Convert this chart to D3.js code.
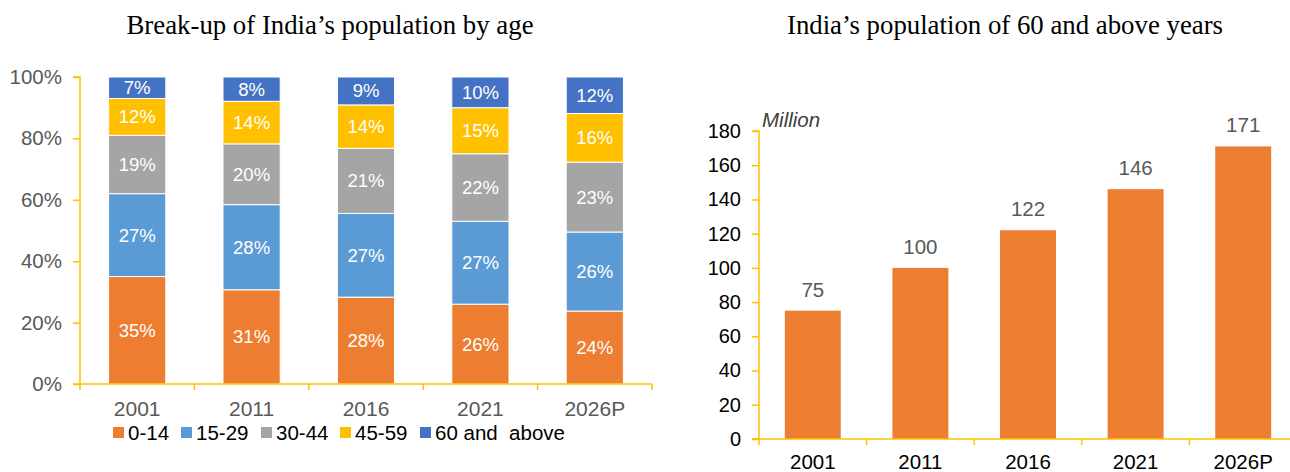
<!DOCTYPE html>
<html>
<head>
<meta charset="utf-8">
<script src="https://cdn.jsdelivr.net/npm/d3@7"></script>
<style>
  body { margin: 0; background: #fff; }
  svg { display: block; font-family: "Liberation Sans", Arial, sans-serif; }
  .title { font-family: "Liberation Serif", "Times New Roman", serif; font-size: 26.8px; fill: #000; }
</style>
</head>
<body>
<svg id="chart" width="1290" height="472"></svg>
<script>
// Left chart: age break-up (% share)
const years = ["2001", "2011", "2016", "2021", "2026P"];
const ageGroups = ["0-14", "15-29", "30-44", "45-59", "60 and  above"];
const share0to14 = [35, 31, 28, 26, 24];
const share15to29 = [27, 28, 27, 27, 26];
const share30to44 = [19, 20, 21, 22, 23];
const share45to59 = [12, 14, 14, 15, 16];
const share60plus = [7, 8, 9, 10, 12];
const pctTicks = [0, 0.2, 0.4, 0.6, 0.8, 1];

// Right chart: 60+ population (million)
const elderly = [75, 100, 122, 146, 171];
const millionTicks = [0, 20, 40, 60, 80, 100, 120, 140, 160, 180];

const COLORS = ["#ED7D31", "#5B9BD5", "#A5A5A5", "#FFC000", "#4472C4"];
const AXIS = "#FFC000";

const svg = d3.select("#chart");

// ---------- left chart ----------
const shares = [share0to14, share15to29, share30to44, share45to59, share60plus];
const rows = years.map((y, i) => {
  const r = { year: y };
  ageGroups.forEach((g, k) => (r[g] = shares[k][i]));
  return r;
});

const L = { left: 80, right: 652, top: 77, bottom: 384 };
const xL = d3.scaleBand().domain(years).range([L.left, L.right]).paddingInner(0.5).paddingOuter(0.25);
const yL = d3.scaleLinear().domain([0, 1]).range([L.bottom, L.top]);

// shares don't always add to exactly 100, so normalise like the original
const stack = d3.stack().keys(ageGroups).offset(d3.stackOffsetExpand);
const series = stack(rows);

const gL = svg.append("g");

gL.selectAll("g.layer")
  .data(series)
  .join("g")
  .attr("class", "layer")
  .attr("fill", (d, i) => COLORS[i])
  .each(function (s) {
    const g = d3.select(this);
    g.selectAll("rect")
      .data(s)
      .join("rect")
      .attr("x", (d) => xL(d.data.year))
      .attr("width", xL.bandwidth())
      .attr("y", (d) => yL(d[1]))
      .attr("height", (d) => yL(d[0]) - yL(d[1]))
      .attr("stroke", "#fff")
      .attr("stroke-width", 1);
    g.selectAll("text")
      .data(s)
      .join("text")
      .attr("x", (d) => xL(d.data.year) + xL.bandwidth() / 2)
      .attr("y", (d) => (yL(d[0]) + yL(d[1])) / 2)
      .attr("dy", "0.35em")
      .attr("text-anchor", "middle")
      .attr("fill", "#fff")
      .attr("font-size", 18.5)
      .text((d) => d.data[s.key] + "%");
  });

// left y axis
const gyL = gL.append("g").attr("transform", `translate(${L.left},0)`)
  .call(d3.axisLeft(yL).tickValues(pctTicks).tickFormat(d3.format(".0%")).tickSize(7).tickPadding(11));
gyL.selectAll("line, path").attr("stroke", AXIS).attr("stroke-width", 1.5);
gyL.select(".domain").attr("d", `M-7,${L.top}H0V${L.bottom}H-7`);
gyL.selectAll("text").attr("fill", "#595959").attr("font-size", 20.5).attr("font-family", "Liberation Sans, Arial");

// left x axis, ticks sit on the band edges
const gxL = gL.append("g").attr("transform", `translate(0,${L.bottom})`);
gxL.append("line").attr("x1", L.left).attr("x2", L.right).attr("stroke", AXIS).attr("stroke-width", 1.5);
const stepL = (L.right - L.left) / years.length;
gxL.selectAll("line.tick")
  .data(d3.range(years.length + 1))
  .join("line")
  .attr("class", "tick")
  .attr("x1", (i) => L.left + i * stepL)
  .attr("x2", (i) => L.left + i * stepL)
  .attr("y1", 0).attr("y2", 6)
  .attr("stroke", AXIS).attr("stroke-width", 1.5);
gxL.selectAll("text")
  .data(years)
  .join("text")
  .attr("x", (d) => xL(d) + xL.bandwidth() / 2)
  .attr("y", 32)
  .attr("text-anchor", "middle")
  .attr("fill", "#595959")
  .attr("font-size", 21)
  .text((d) => d);

// legend
const legendX = [113, 181, 261, 340, 420];
const legend = gL.append("g").attr("transform", "translate(0,433)");
const li = legend.selectAll("g").data(ageGroups).join("g")
  .attr("transform", (d, i) => `translate(${legendX[i]},0)`);
li.append("rect").attr("x", 0).attr("y", -6).attr("width", 11).attr("height", 11).attr("fill", (d, i) => COLORS[i]);
li.append("text").attr("x", 15).attr("dy", "0.35em").attr("font-size", 20.5).attr("fill", "#000")
  .attr("xml:space", "preserve").text((d) => d);

svg.append("text").attr("class", "title").attr("x", 330).attr("y", 34).attr("text-anchor", "middle")
  .text("Break-up of India’s population by age");

// ---------- right chart ----------
const R = { left: 759, top: 131, bottom: 439 };
const stepR = 107.6;
const xR = d3.scaleBand().domain(years).range([R.left, R.left + stepR * years.length]).paddingInner(0.48).paddingOuter(0.24);
const yR = d3.scaleLinear().domain([0, 180]).range([R.bottom, R.top]);

const gR = svg.append("g");
gR.selectAll("rect")
  .data(elderly)
  .join("rect")
  .attr("x", (d, i) => xR(years[i]))
  .attr("width", xR.bandwidth())
  .attr("y", (d) => yR(d))
  .attr("height", (d) => yR(0) - yR(d))
  .attr("fill", COLORS[0]);

gR.selectAll("text.val")
  .data(elderly)
  .join("text")
  .attr("class", "val")
  .attr("x", (d, i) => xR(years[i]) + xR.bandwidth() / 2)
  .attr("y", (d) => yR(d) - 14)
  .attr("text-anchor", "middle")
  .attr("fill", "#595959")
  .attr("font-size", 20.5)
  .text((d) => d);

const gyR = gR.append("g").attr("transform", `translate(${R.left},0)`)
  .call(d3.axisLeft(yR).tickValues(millionTicks).tickSize(7).tickPadding(11));
gyR.selectAll("line, path").attr("stroke", AXIS).attr("stroke-width", 1.5);
gyR.select(".domain").attr("d", `M-7,${R.top}H0V${R.bottom}H-7`);
gyR.selectAll("text").attr("fill", "#000").attr("font-size", 20).attr("font-family", "Liberation Sans, Arial");

const gxR = gR.append("g").attr("transform", `translate(0,${R.bottom})`);
gxR.append("line").attr("x1", R.left - 7).attr("x2", 1290).attr("stroke", AXIS).attr("stroke-width", 1.5);
gxR.selectAll("line.tick")
  .data(d3.range(years.length + 1))
  .join("line")
  .attr("class", "tick")
  .attr("x1", (i) => R.left + i * stepR)
  .attr("x2", (i) => R.left + i * stepR)
  .attr("y1", 0).attr("y2", 6)
  .attr("stroke", AXIS).attr("stroke-width", 1.5);
// labels sit right at the bottom edge, as in the original
gxR.selectAll("text")
  .data(years)
  .join("text")
  .attr("x", (d) => xR(d) + xR.bandwidth() / 2)
  .attr("y", 30)
  .attr("text-anchor", "middle")
  .attr("fill", "#000")
  .attr("font-size", 20.5)
  .text((d) => d);

gR.append("text").attr("x", 762).attr("y", 127).attr("font-style", "italic")
  .attr("fill", "#404040").attr("font-size", 20.5).text("Million");

svg.append("text").attr("class", "title").attr("x", 1005).attr("y", 34).attr("text-anchor", "middle")
  .text("India’s population of 60 and above years");
</script>
</body>
</html>
